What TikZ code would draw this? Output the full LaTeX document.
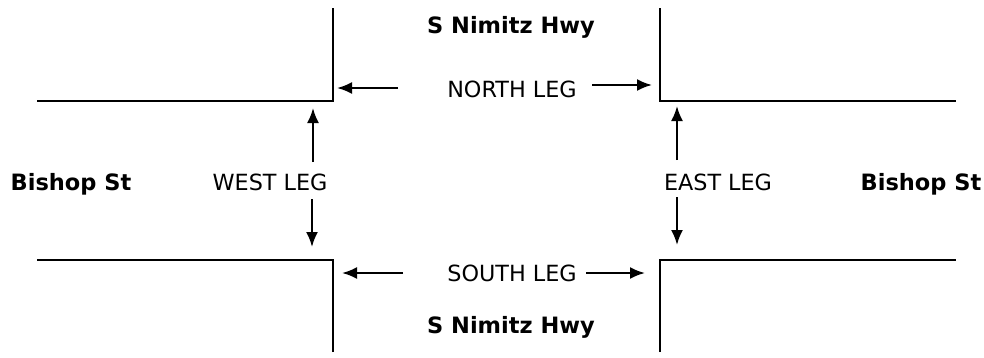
\documentclass[tikz,border=0pt]{standalone}
\usepackage{fontspec}
\setmainfont{DejaVu Sans}
\usetikzlibrary{arrows.meta}
\begin{document}
\begin{tikzpicture}[x=1pt,y=-1pt,
  road/.style={line width=2.4pt},
  legarrow/.style={line width=2.2pt,-{Latex[length=15pt,width=12pt]}},
  leglabel/.style={anchor=base,inner sep=0pt,font=\fontsize{22.3}{26}\selectfont},
  streetlabel/.style={anchor=base,inner sep=0pt,font=\fontsize{22.5}{26}\selectfont\bfseries}]
\useasboundingbox (0,0) rectangle (984,357);
% road edges
\coordinate (nwTop) at (333,8);
\coordinate (nwCorner) at (333,101);
\coordinate (nwEnd) at (37,101);
\coordinate (neTop) at (660,8);
\coordinate (neCorner) at (660,101);
\coordinate (neEnd) at (956,101);
\coordinate (swBot) at (333,352);
\coordinate (swCorner) at (333,260);
\coordinate (swEnd) at (37,260);
\coordinate (seBot) at (660,352);
\coordinate (seCorner) at (660,260);
\coordinate (seEnd) at (956,260);
\draw[road] (nwTop) -- (nwCorner) -- (nwEnd);
\draw[road] (neTop) -- (neCorner) -- (neEnd);
\draw[road] (swBot) -- (swCorner) -- (swEnd);
\draw[road] (seBot) -- (seCorner) -- (seEnd);
% labels
\node[streetlabel] (nimitzN) at (511,33) {S Nimitz Hwy};
\node[streetlabel] (nimitzS) at (511,333) {S Nimitz Hwy};
\node[streetlabel] (bishopW) at (71,190.5) {Bishop St};
\node[streetlabel] (bishopE) at (921,190.5) {Bishop St};
\node[leglabel] (north) at (512,97) {NORTH LEG};
\node[leglabel] (south) at (512,281) {SOUTH LEG};
\node[leglabel] (west) at (270,190) {WEST LEG};
\node[leglabel] (east) at (718,190) {EAST LEG};
% arrows
\coordinate (nlS) at (398,88);  \coordinate (nlE) at (337,88);
\coordinate (nrS) at (592,85);  \coordinate (nrE) at (652,85);
\coordinate (slS) at (403,273); \coordinate (slE) at (342,273);
\coordinate (srS) at (586,273); \coordinate (srE) at (645,273);
\coordinate (wuS) at (313,162); \coordinate (wuE) at (313,108);
\coordinate (wdS) at (312,199); \coordinate (wdE) at (312,247);
\coordinate (euS) at (677,160); \coordinate (euE) at (677,106);
\coordinate (edS) at (677,197); \coordinate (edE) at (677,245);
\draw[legarrow] (nlS) -- (nlE);
\draw[legarrow] (nrS) -- (nrE);
\draw[legarrow] (slS) -- (slE);
\draw[legarrow] (srS) -- (srE);
\draw[legarrow] (wuS) -- (wuE);
\draw[legarrow] (wdS) -- (wdE);
\draw[legarrow] (euS) -- (euE);
\draw[legarrow] (edS) -- (edE);
\end{tikzpicture}
\end{document}
